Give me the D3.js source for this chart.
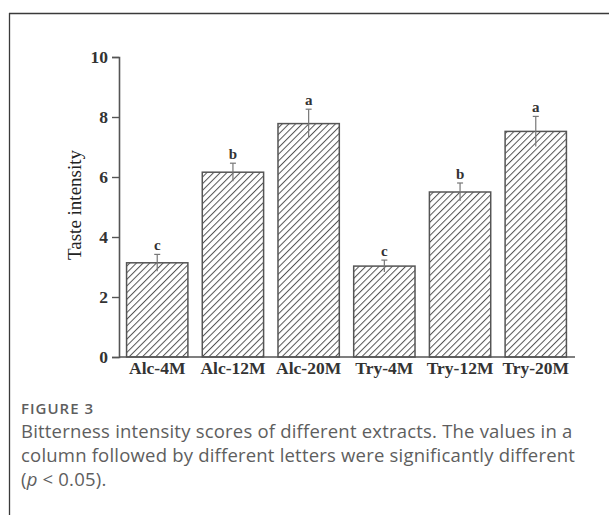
<!DOCTYPE html>
<html>
<head>
<meta charset="utf-8">
<script src="https://cdn.jsdelivr.net/npm/d3@7"></script>
<style>
  html, body { margin: 0; padding: 0; background: #fff; }
  svg { display: block; }
</style>
</head>
<body>
<svg id="chart" width="609" height="515"></svg>
<script>
// Bitterness scores per extract, with error bars and significance letters
const categories = ["Alc-4M", "Alc-12M", "Alc-20M", "Try-4M", "Try-12M", "Try-20M"];
const values = [3.14, 6.16, 7.78, 3.03, 5.5, 7.52];
const errors = [0.28, 0.3, 0.48, 0.2, 0.3, 0.5];
const letters = ["c", "b", "a", "c", "b", "a"];
const yTicks = [0, 2, 4, 6, 8, 10];

const svg = d3.select("#chart");

// card frame: top and left rules
svg.append("line").attr("x1", 9).attr("x2", 609).attr("y1", 13.5).attr("y2", 13.5)
  .attr("stroke", "#3a3a3a").attr("stroke-width", 1.3);
svg.append("line").attr("x1", 9.5).attr("x2", 9.5).attr("y1", 13).attr("y2", 515)
  .attr("stroke", "#3a3a3a").attr("stroke-width", 1.3);

// hatch pattern for the bars
const gap = 4.7;
const defs = svg.append("defs");
const pat = defs.append("pattern").attr("id", "hatch")
  .attr("patternUnits", "userSpaceOnUse").attr("width", gap).attr("height", gap)
  .attr("patternTransform", "rotate(45)");
pat.append("rect").attr("width", gap).attr("height", gap).attr("fill", "#fff");
pat.append("line").attr("x1", 0.5).attr("x2", 0.5).attr("y1", 0).attr("y2", gap)
  .attr("stroke", "#555").attr("stroke-width", 1);

const x = d3.scaleBand().domain(categories).range([119, 574])
  .paddingInner(0.19).paddingOuter(0.1);
const y = d3.scaleLinear().domain([0, 10]).range([357, 57]);

const serif = "'Liberation Serif', 'Times New Roman', serif";
const axisColor = "#555";

// bars
svg.append("g").selectAll("rect").data(categories).join("rect")
  .attr("x", d => x(d))
  .attr("y", (d, i) => y(values[i]))
  .attr("width", x.bandwidth())
  .attr("height", (d, i) => y(0) - y(values[i]))
  .attr("fill", "url(#hatch)")
  .attr("stroke", "#555").attr("stroke-width", 1.5);

// error bars: stem through the bar top, small cap above
const eb = svg.append("g").attr("stroke", "#777").attr("stroke-width", 1.2);
categories.forEach((c, i) => {
  const cx = x(c) + x.bandwidth() / 2;
  eb.append("line").attr("x1", cx).attr("x2", cx)
    .attr("y1", y(values[i] - errors[i])).attr("y2", y(values[i] + errors[i]));
  eb.append("line").attr("x1", cx - 3).attr("x2", cx + 3)
    .attr("y1", y(values[i] + errors[i])).attr("y2", y(values[i] + errors[i]));
});

// significance letters
svg.append("g").selectAll("text").data(categories).join("text")
  .attr("x", d => x(d) + x.bandwidth() / 2)
  .attr("y", (d, i) => y(values[i] + errors[i]) - 4)
  .attr("text-anchor", "middle")
  .attr("font-family", serif).attr("font-weight", "bold").attr("font-size", 15)
  .attr("fill", "#333")
  .text((d, i) => letters[i]);

// y axis
const yAxis = svg.append("g").attr("transform", "translate(119,0)")
  .call(d3.axisLeft(y).tickValues(yTicks).tickSize(7).tickPadding(4));
yAxis.select(".domain").attr("stroke", axisColor).attr("stroke-width", 1.6);
yAxis.selectAll(".tick line").attr("stroke", axisColor).attr("stroke-width", 1.4);
yAxis.selectAll(".tick text").attr("font-family", serif).attr("font-weight", "bold")
  .attr("font-size", 17.5).attr("fill", "#333");

// x axis
const xAxis = svg.append("g").attr("transform", "translate(0,357)")
  .call(d3.axisBottom(x).tickSize(0).tickPadding(5));
xAxis.select(".domain").attr("stroke", axisColor).attr("stroke-width", 1.6)
  .attr("d", "M119,0H575");
xAxis.selectAll(".tick text").attr("font-family", serif).attr("font-weight", "bold")
  .attr("font-size", 17.5).attr("fill", "#333");

// y axis title
svg.append("text")
  .attr("transform", "translate(81,205) rotate(-90)")
  .attr("text-anchor", "middle")
  .attr("font-family", serif).attr("font-size", 19).attr("fill", "#222")
  .text("Taste intensity");

// caption
const cap = svg.append("g").attr("font-family", "'Open Sans', sans-serif");
cap.append("text").attr("x", 21).attr("y", 414)
  .attr("font-size", 15).attr("font-weight", 600).attr("fill", "#5e5e5e")
  .attr("letter-spacing", 1)
  .text("FIGURE 3");
const capLines = [
  "Bitterness intensity scores of different extracts. The values in a",
  "column followed by different letters were significantly different"
];
capLines.forEach((t, i) => {
  cap.append("text").attr("x", 21).attr("y", 438 + i * 24)
    .attr("font-size", 18.5).attr("letter-spacing", 0.2)
    .attr("fill", "#5e5e5e").text(t);
});
const last = cap.append("text").attr("x", 21).attr("y", 486)
  .attr("font-size", 18.5).attr("letter-spacing", 0.2).attr("fill", "#5e5e5e");
last.append("tspan").text("(");
last.append("tspan").attr("font-style", "italic").text("p");
last.append("tspan").text(" < 0.05).");
</script>
</body>
</html>
